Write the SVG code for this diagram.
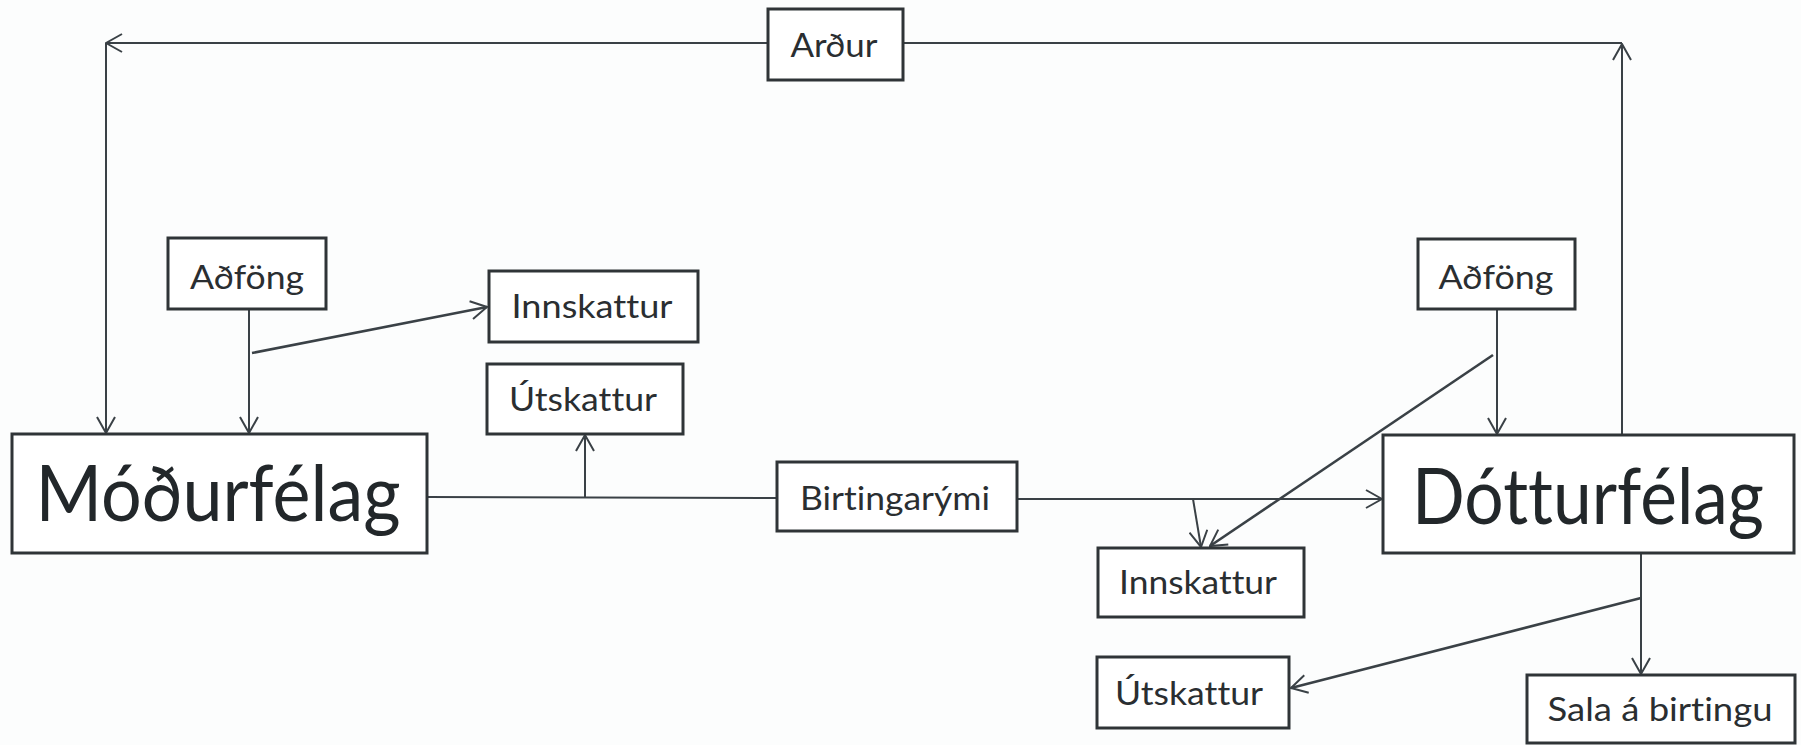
<svg xmlns="http://www.w3.org/2000/svg" width="1801" height="745" viewBox="0 0 1801 745">
<style>
.box{fill:#ffffff;stroke:#2f3437;stroke-width:3}
.lbl{font-family:Lato,"Open Sans","Liberation Sans",sans-serif;font-size:32px;fill:#2a2e31;text-anchor:middle;font-variant-ligatures:none;font-feature-settings:"liga" 0,"clig" 0}
.big{font-family:Lato,"Open Sans","Liberation Sans",sans-serif;font-size:78px;fill:#22272a;text-anchor:middle;font-variant-ligatures:none;font-feature-settings:"liga" 0,"clig" 0}
.c{fill:none;stroke:#3a4146;stroke-width:2}
.d{fill:none;stroke:#3a4146;stroke-width:2.6}
</style>
<defs>
<marker id="ah" viewBox="0 0 18 20" refX="17" refY="10" markerWidth="18" markerHeight="20" markerUnits="userSpaceOnUse" orient="auto">
<path d="M1,1 L17,10 L1,19" fill="none" stroke="#3a4146" stroke-width="2"/>
</marker>
</defs>
<rect x="0" y="0" width="1801" height="745" fill="#fcfdfd"/>
<g id="connectors">
<path class="c" d="M768,43 L106,43" marker-end="url(#ah)"/>
<path class="c" d="M106,43 L106,433" marker-end="url(#ah)"/>
<path class="c" d="M903,43 L1622,43"/>
<path class="c" d="M1622,435 L1622,44" marker-end="url(#ah)"/>
<path class="c" d="M249,309 L249,433" marker-end="url(#ah)"/>
<path class="d" d="M252,353 L487,307" marker-end="url(#ah)"/>
<path class="c" d="M427,497 L777,498"/>
<path class="c" d="M585,497 L585,435" marker-end="url(#ah)"/>
<path class="c" d="M1017,499 L1382,499" marker-end="url(#ah)"/>
<path class="c" d="M1193,499 L1201,547" marker-end="url(#ah)"/>
<path class="c" d="M1497,309 L1497,434" marker-end="url(#ah)"/>
<path class="d" d="M1493,355 L1210,546" marker-end="url(#ah)"/>
<path class="c" d="M1641,553 L1641,674" marker-end="url(#ah)"/>
<path class="d" d="M1641,598 L1291,688" marker-end="url(#ah)"/>
</g>
<g id="ardur"><rect class="box" x="768" y="9" width="135" height="71"/><text class="lbl" x="834" y="57" textLength="87" lengthAdjust="spacingAndGlyphs">Arður</text></g>
<g id="adfong-l"><rect class="box" x="168" y="238" width="158" height="71"/><text class="lbl" x="247" y="289" textLength="114" lengthAdjust="spacingAndGlyphs">Aðföng</text></g>
<g id="innskattur-l"><rect class="box" x="489" y="271" width="209" height="71"/><text class="lbl" x="592" y="318" textLength="161" lengthAdjust="spacingAndGlyphs">Innskattur</text></g>
<g id="utskattur-l"><rect class="box" x="487" y="364" width="196" height="70"/><text class="lbl" x="583" y="411" textLength="148" lengthAdjust="spacingAndGlyphs">Útskattur</text></g>
<g id="modurfelag"><rect class="box" x="12" y="434" width="415" height="119"/><text class="big" x="218" y="521" textLength="365" lengthAdjust="spacingAndGlyphs">Móðurfélag</text></g>
<g id="birtingarymi"><rect class="box" x="777" y="462" width="240" height="69"/><text class="lbl" x="895" y="510" textLength="190" lengthAdjust="spacingAndGlyphs">Birtingarými</text></g>
<g id="adfong-r"><rect class="box" x="1418" y="239" width="157" height="70"/><text class="lbl" x="1496" y="289" textLength="115" lengthAdjust="spacingAndGlyphs">Aðföng</text></g>
<g id="dotturfelag"><rect class="box" x="1383" y="435" width="411" height="118"/><text class="big" x="1588" y="524" textLength="352" lengthAdjust="spacingAndGlyphs">Dótturfélag</text></g>
<g id="innskattur-r"><rect class="box" x="1098" y="548" width="206" height="69"/><text class="lbl" x="1198" y="594" textLength="158" lengthAdjust="spacingAndGlyphs">Innskattur</text></g>
<g id="utskattur-r"><rect class="box" x="1097" y="657" width="192" height="71"/><text class="lbl" x="1189" y="705" textLength="148" lengthAdjust="spacingAndGlyphs">Útskattur</text></g>
<g id="sala"><rect class="box" x="1527" y="675" width="268" height="68"/><text class="lbl" x="1660" y="721" textLength="225" lengthAdjust="spacingAndGlyphs">Sala á birtingu</text></g>
</svg>
